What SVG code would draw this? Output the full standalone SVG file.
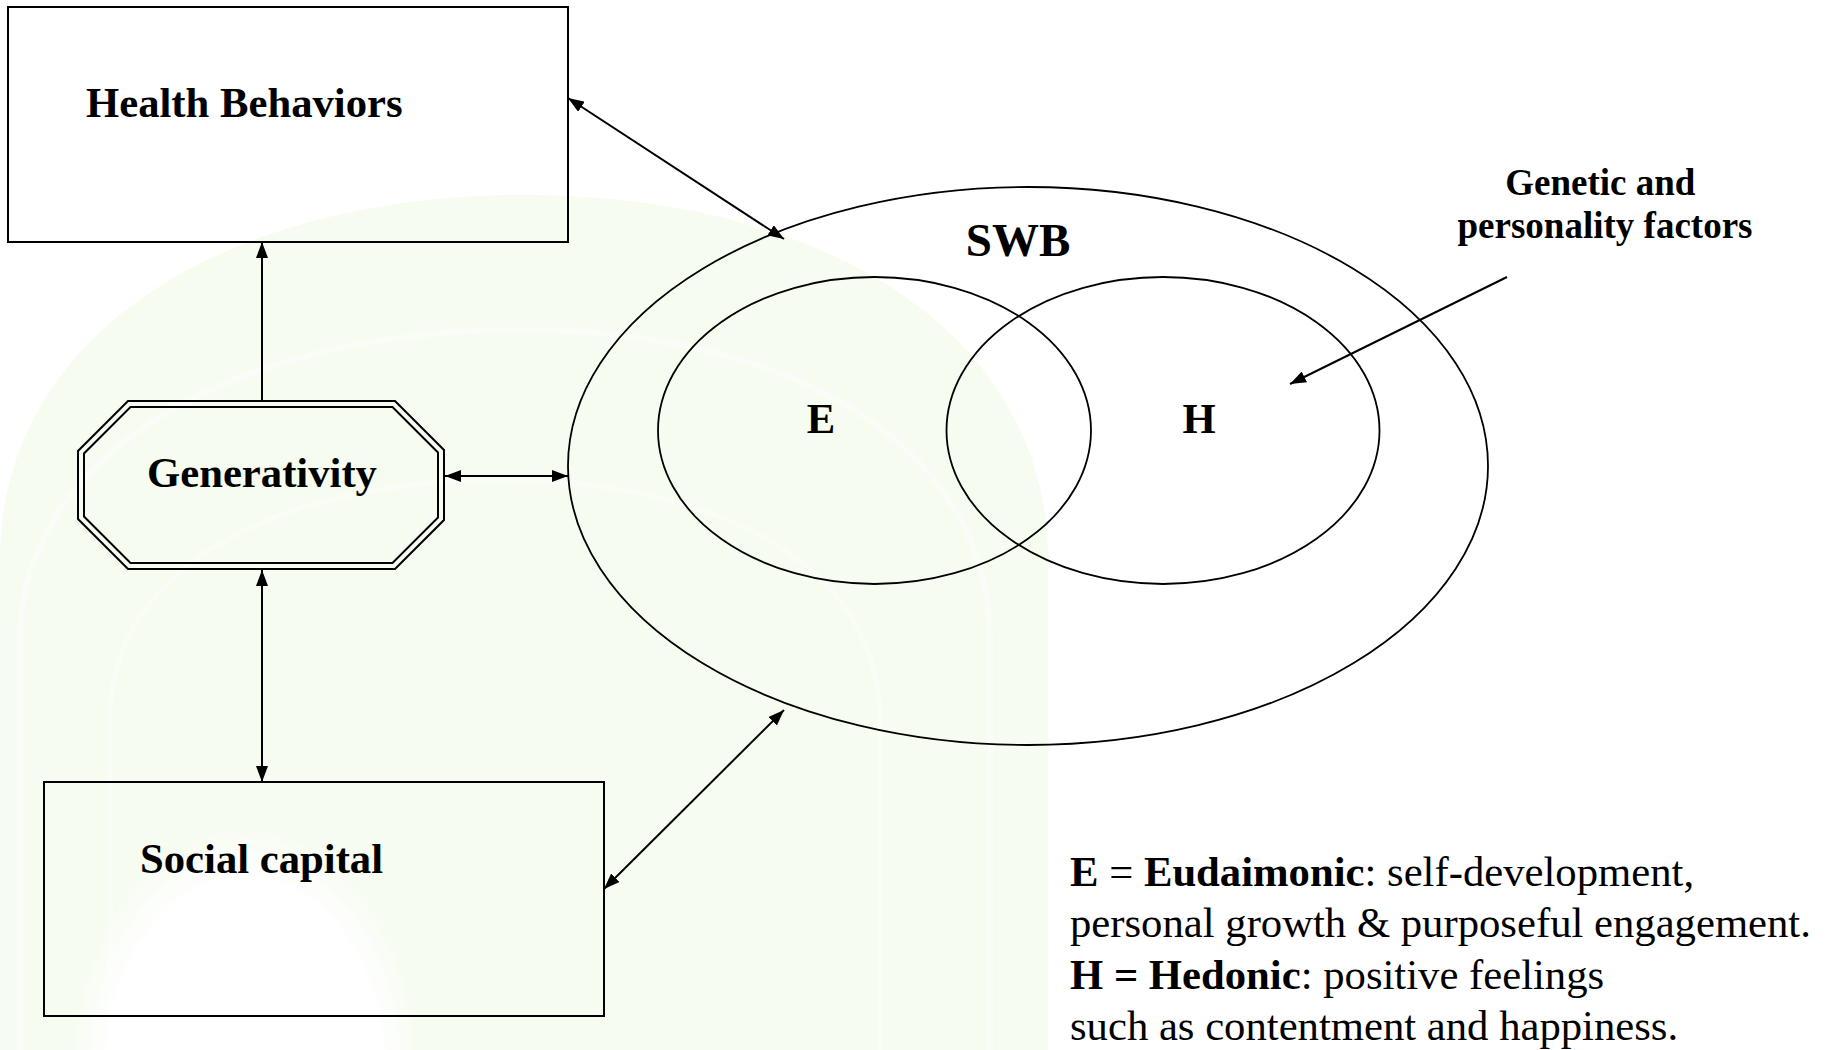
<svg xmlns="http://www.w3.org/2000/svg" width="1832" height="1050" viewBox="0 0 1832 1050">
  <defs>
    <style>
      .t { font-family: "Liberation Serif", "Times New Roman", serif; fill: #000; }
      .b { font-weight: bold; }
      .node { fill: none; stroke: #000; stroke-width: 2; }
      .ell { fill: none; stroke: #000; stroke-width: 1.8; }
      .conn { fill: none; stroke: #000; stroke-width: 2; }
      .two { marker-start: url(#arrow); marker-end: url(#arrow); }
      .one { marker-end: url(#arrow); }
    </style>
    <marker id="arrow" viewBox="0 0 16 12" refX="16" refY="6" markerWidth="16" markerHeight="12" markerUnits="userSpaceOnUse" orient="auto-start-reverse">
      <path d="M0,0 L16,6 L0,12 z" fill="#000"/>
    </marker>
    <radialGradient id="blob" cx="0.5" cy="0.5" r="0.5">
      <stop offset="0" stop-color="#ffffff" stop-opacity="1"/>
      <stop offset="0.75" stop-color="#ffffff" stop-opacity="1"/>
      <stop offset="1" stop-color="#ffffff" stop-opacity="0"/>
    </radialGradient>
  </defs>

  <!-- background with faint watermark -->
  <rect x="0" y="0" width="1832" height="1050" fill="#ffffff"/>
  <path d="M0,1050 V560 C0,330 230,195 525,195 C820,195 1048,330 1048,560 V1050 Z" fill="#f6fcf0"/>
  <path d="M20,1050 V640 C20,450 240,330 520,330 C800,330 990,450 990,640 V1050" fill="none" stroke="#fafdf7" stroke-width="6"/>
  <path d="M110,1050 V720 C110,560 290,480 500,480 C710,480 880,560 880,720 V1050" fill="none" stroke="#f9fdf5" stroke-width="5"/>
  <ellipse cx="245" cy="1070" rx="180" ry="250" fill="url(#blob)"/>

  <!-- connectors -->
  <g id="connectors">
    <line class="conn two" x1="568" y1="98" x2="784" y2="239"/>
    <line class="conn one" x1="262" y1="400" x2="262" y2="242"/>
    <line class="conn two" x1="445" y1="476" x2="568" y2="476"/>
    <line class="conn two" x1="262" y1="570" x2="262" y2="782"/>
    <line class="conn two" x1="604" y1="889" x2="784" y2="710"/>
    <line class="conn one" x1="1507" y1="277" x2="1290" y2="384"/>
  </g>

  <!-- nodes -->
  <g id="health-behaviors">
    <rect class="node" x="8" y="7" width="560" height="235" fill="#ffffff"/>
    <text class="t b" x="86" y="117" font-size="42.7">Health Behaviors</text>
  </g>

  <g id="generativity">
    <polygon class="node" stroke-width="2.5" points="128,401 395,401 444,450 444,520 395,569 128,569 78,519 78,451"/>
    <polygon class="node" stroke-width="2.5" points="130.5,407 392.5,407 438,452.5 438,517.5 392.5,563 130.5,563 84,516.5 84,453.5"/>
    <text class="t b" x="147" y="487" font-size="42.7">Generativity</text>
  </g>

  <g id="social-capital">
    <rect class="node" x="44" y="782" width="560" height="234"/>
    <text class="t b" x="140" y="873" font-size="42.7">Social capital</text>
  </g>

  <g id="swb">
    <ellipse class="ell" cx="1028" cy="466" rx="460" ry="279"/>
    <text class="t b" x="1018" y="256" font-size="47" text-anchor="middle">SWB</text>
  </g>

  <g id="eudaimonic">
    <ellipse class="ell" cx="874.5" cy="430.5" rx="216.5" ry="153.5"/>
    <text class="t b" x="821" y="433" font-size="42.7" text-anchor="middle">E</text>
  </g>

  <g id="hedonic">
    <ellipse class="ell" cx="1163" cy="430.5" rx="216.5" ry="153.5"/>
    <text class="t b" x="1199" y="433" font-size="42.7" text-anchor="middle">H</text>
  </g>

  <g id="genetic-factors">
    <text class="t b" font-size="37" text-anchor="middle">
      <tspan x="1605" y="195">Genetic and</tspan>
      <tspan x="1605" y="238">personality factors</tspan>
    </text>
  </g>

  <g id="legend">
    <text class="t" font-size="42.7">
      <tspan x="1070" y="886"><tspan class="b">E</tspan> = <tspan class="b">Eudaimonic</tspan>: self-development,</tspan>
      <tspan x="1070" y="937">personal growth &amp; purposeful engagement.</tspan>
      <tspan x="1070" y="989"><tspan class="b">H = Hedonic</tspan>: positive feelings</tspan>
      <tspan x="1070" y="1040">such as contentment and happiness.</tspan>
    </text>
  </g>
</svg>
